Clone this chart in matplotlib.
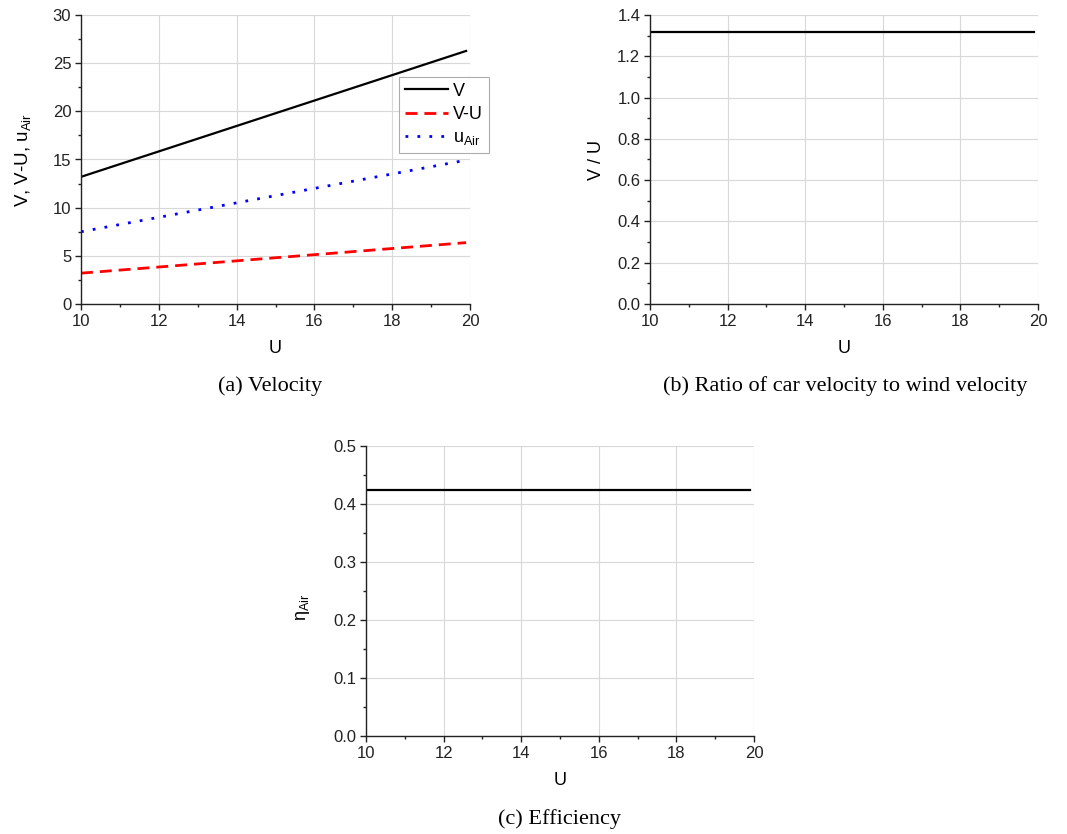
import matplotlib.pyplot as plt
from matplotlib.ticker import MultipleLocator

plt.rcParams['font.family'] = ['Liberation Sans', 'DejaVu Sans']
plt.rcParams['mathtext.fontset'] = 'custom'
plt.rcParams['mathtext.rm'] = 'Liberation Sans'
plt.rcParams['mathtext.it'] = 'Liberation Sans'

# data
U = [10, 12, 14, 16, 18, 19.9]
V = [13.2, 15.84, 18.48, 21.12, 23.76, 26.27]
V_minus_U = [3.2, 3.84, 4.48, 5.12, 5.76, 6.37]
u_air = [7.5, 9.0, 10.5, 12.0, 13.5, 14.93]
ratio = [1.32, 1.32, 1.32, 1.32, 1.32, 1.32]
eta_air = [0.424, 0.424, 0.424, 0.424, 0.424, 0.424]

W, H = 1067, 834
fig = plt.figure(figsize=(W / 100, H / 100), dpi=100)


def make_axes(x0, y0, x1, y1):
    # pixel box -> figure fraction
    return fig.add_axes([x0 / W, 1 - y1 / H, (x1 - x0) / W, (y1 - y0) / H])


def style(ax, ymax, ymajor, yminor):
    ax.set_xlim(10, 20)
    ax.set_ylim(0, ymax)
    ax.xaxis.set_major_locator(MultipleLocator(2))
    ax.xaxis.set_minor_locator(MultipleLocator(1))
    ax.yaxis.set_major_locator(MultipleLocator(ymajor))
    ax.yaxis.set_minor_locator(MultipleLocator(yminor))
    ax.spines['top'].set_visible(False)
    ax.spines['right'].set_visible(False)
    for s in ['left', 'bottom']:
        ax.spines[s].set_linewidth(1.0)
        ax.spines[s].set_color('#222222')
    ax.grid(True, which='major', color='#d8d8d8', linewidth=0.8)
    ax.set_axisbelow(True)
    ax.tick_params(which='major', direction='out', length=4, width=1, pad=3,
                   labelsize=12, colors='#222222')
    ax.tick_params(which='minor', direction='out', length=2.5, width=1,
                   colors='#222222')
    ax.set_xlabel('U', fontsize=13, labelpad=8)


# (a) Velocity
ax1 = make_axes(81, 15, 470, 304)
ax1.plot(U, V, color='black', lw=1.6, label='V')
ax1.plot(U, V_minus_U, color='red', lw=2.0, ls=(0, (4.3, 2.5)), label='V-U')
ax1.plot(U, u_air, color='blue', lw=2.0, ls=(0, (1, 3.3)),
         label=r'u$_{\mathregular{Air}}$')
style(ax1, 30, 5, 2.5)
ax1.yaxis.set_major_formatter(lambda v, p: f'{v:.0f}')
ax1.set_ylabel(r'V, V-U, u$_{\mathregular{Air}}$', fontsize=13.5)
ax1.yaxis.set_label_coords(-0.123, 0.5)
leg = ax1.legend(loc='upper left', bbox_to_anchor=(0.818, 0.785), borderaxespad=0,
                 fontsize=13, frameon=True, fancybox=False, handlelength=2.4,
                 handletextpad=0.3, borderpad=0.3, labelspacing=0.35)
leg.get_frame().set_edgecolor('#999999')
leg.get_frame().set_linewidth(0.8)

# (b) Ratio
ax2 = make_axes(650, 15, 1038, 304)
ax2.plot(U, ratio, color='black', lw=1.6)
style(ax2, 1.4, 0.2, 0.1)
ax2.yaxis.set_major_formatter(lambda v, p: f'{v:.1f}')
ax2.set_ylabel('V / U', fontsize=13)
ax2.yaxis.set_label_coords(-0.116, 0.5)

# (c) Efficiency
ax3 = make_axes(366, 446, 754, 736)
ax3.plot(U, eta_air, color='black', lw=1.6)
style(ax3, 0.5, 0.1, 0.05)
ax3.yaxis.set_major_formatter(lambda v, p: f'{v:.1f}')
ax3.set_ylabel(r'$\mathregular{\eta_{Air}}$', fontsize=13)
ax3.yaxis.set_label_coords(-0.139, 0.445)

# captions
cap = dict(fontsize=16, family='Liberation Serif', ha='center', va='center')
fig.text(270 / W, 1 - 386 / H, '(a) Velocity', **cap)
fig.text(845 / W, 1 - 386 / H, '(b) Ratio of car velocity to wind velocity', **cap)
fig.text(560 / W, 1 - 819 / H, '(c) Efficiency', **cap)

fig.savefig('out.png', dpi=100)
